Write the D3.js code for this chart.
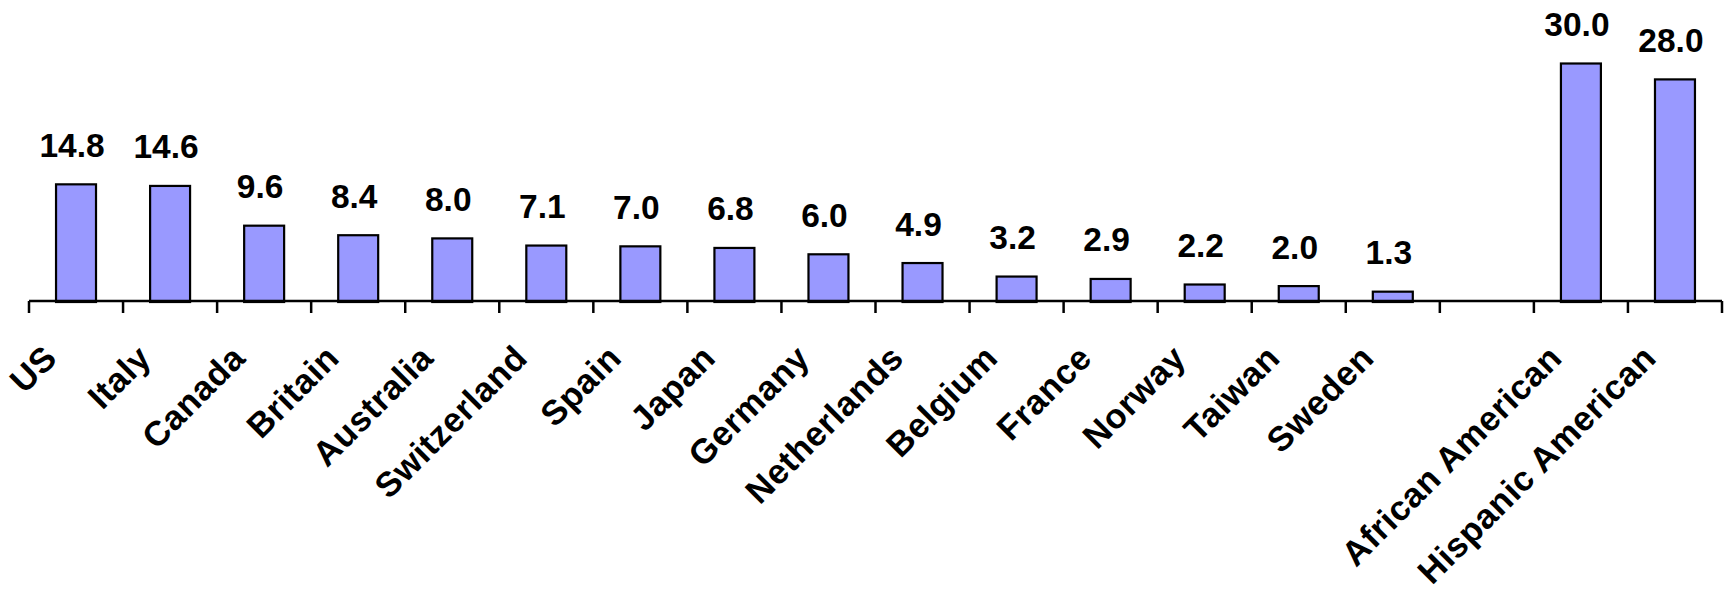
<!DOCTYPE html>
<html>
<head>
<meta charset="utf-8">
<script src="https://cdn.jsdelivr.net/npm/d3@7"></script>
<style>
  html, body { margin: 0; padding: 0; background: #fff; }
  svg { display: block; }
  text { font-family: "Liberation Sans", Arial, sans-serif; font-weight: bold; fill: #000; }
</style>
</head>
<body>
<svg id="chart" width="1727" height="594"></svg>
<script>
const categories = ["US", "Italy", "Canada", "Britain", "Australia", "Switzerland", "Spain", "Japan", "Germany", "Netherlands", "Belgium", "France", "Norway", "Taiwan", "Sweden", " ", "African American", "Hispanic American"];
const values = [14.8, 14.6, 9.6, 8.4, 8.0, 7.1, 7.0, 6.8, 6.0, 4.9, 3.2, 2.9, 2.2, 2.0, 1.3, null, 30.0, 28.0];
const valueLabels = ["14.8", "14.6", "9.6", "8.4", "8.0", "7.1", "7.0", "6.8", "6.0", "4.9", "3.2", "2.9", "2.2", "2.0", "1.3", "", "30.0", "28.0"];

const data = categories.map((c, i) => ({ cat: c, value: values[i], label: valueLabels[i] }));

const svg = d3.select("#chart");
const left = 29, right = 1722, zeroY = 302;

const x = d3.scaleBand()
  .domain(categories)
  .range([left, right])
  .paddingInner(0.575)
  .paddingOuter(0.2875);

const y = d3.scaleLinear()
  .domain([0, 30])
  .range([zeroY, 63.5]);

const step = x.step();
const bw = x.bandwidth();

// bars
svg.append("g").selectAll("rect")
  .data(data.filter(d => d.value != null))
  .join("rect")
  .attr("x", d => x(d.cat))
  .attr("y", d => y(d.value))
  .attr("width", bw)
  .attr("height", d => y(0) - y(d.value))
  .attr("fill", "#9999FF")
  .attr("stroke", "#000")
  .attr("stroke-width", 2.2);

// value labels
svg.append("g").selectAll("text")
  .data(data.filter(d => d.value != null))
  .join("text")
  .attr("x", d => x(d.cat) + bw / 2 - 4)
  .attr("y", d => y(d.value) - 27.5)
  .attr("text-anchor", "middle")
  .style("font-size", "33.5px")
  .text(d => d.label);

// axis line
const boundaries = categories.map(c => x(c) + bw / 2 - step / 2);
boundaries.push(x(categories[categories.length - 1]) + bw / 2 + step / 2);

svg.append("line")
  .attr("x1", left).attr("x2", right)
  .attr("y1", zeroY - 1).attr("y2", zeroY - 1)
  .attr("stroke", "#000").attr("stroke-width", 2.5);

svg.append("g").selectAll("line")
  .data(boundaries)
  .join("line")
  .attr("x1", d => d).attr("x2", d => d)
  .attr("y1", zeroY - 1).attr("y2", zeroY + 11)
  .attr("stroke", "#000").attr("stroke-width", 2.5);

// category labels
svg.append("g").selectAll("text")
  .data(data.filter(d => d.cat.trim() !== ""))
  .join("text")
  .attr("transform", d => `translate(${x(d.cat) + bw / 2 - 17},${zeroY + 58}) rotate(-45)`)
  .attr("text-anchor", "end")
  .style("font-size", "34.5px")
  .style("letter-spacing", "0.6px")
  .text(d => d.cat);
</script>
</body>
</html>
